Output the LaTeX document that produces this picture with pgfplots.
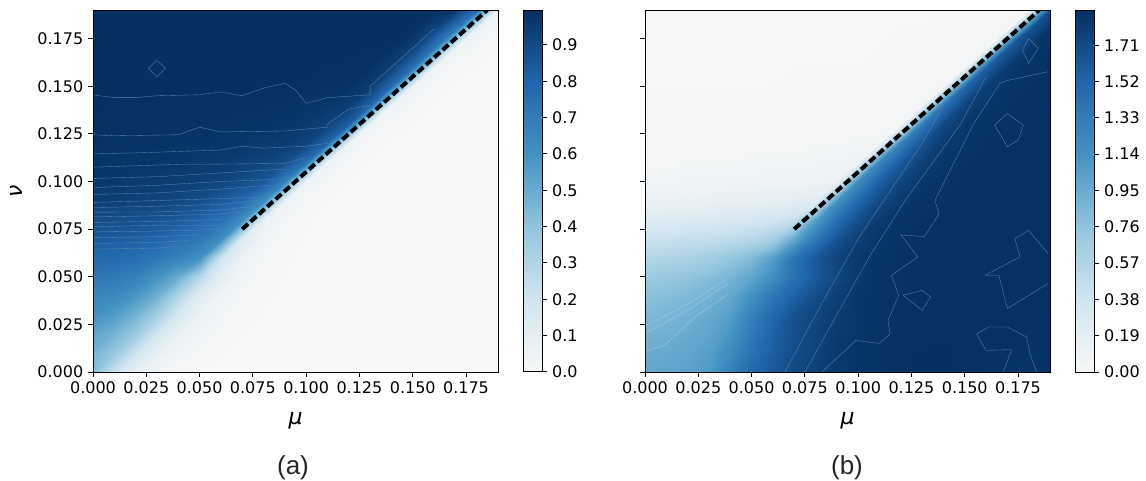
\documentclass[border=0pt]{standalone}
\usepackage{fontspec}
\setmainfont{DejaVu Sans}
\newfontfamily\capfont{Liberation Sans}
\usepackage{pgfplots}
\pgfplotsset{compat=1.18}
\definecolor{seam}{RGB}{95,135,175}
\definecolor{seamlight}{RGB}{165,205,232}
\pgfplotsset{
  /pgfplots/colormap={halfrdbu}{HTML(0)=(F7F7F7) HTML(2)=(D1E5F0) HTML(4)=(92C5DE) HTML(6)=(4393C3) HTML(8)=(2166AC) HTML(10)=(053061)},
  panel/.style={
    scale only axis, width=303.75pt, height=271.5pt,
    xmin=0, xmax=0.19, ymin=0, ymax=0.19,
    axis on top, axis line style={line width=0.75pt,black},
    tick align=outside, xtick pos=bottom, ytick pos=left,
    major tick length=3.75pt, tick style={line width=0.75pt,black},
    xtick={0,0.025,0.05,0.075,0.1,0.125,0.15,0.175},
    ytick={0,0.025,0.05,0.075,0.1,0.125,0.15,0.175},
    xticklabels={0.000,0.025,0.050,0.075,0.100,0.125,0.150,0.175},
    tick label style={font=\fontsize{12}{14}\selectfont},
    xlabel={\textit{μ}},
    every axis x label/.style={at={(axis description cs:0.5,-0.134)},anchor=center,font=\fontsize{16.5}{18}\selectfont},
    every axis y label/.style={at={(axis description cs:-0.19,0.5)},anchor=center,rotate=90,font=\fontsize{16.5}{18}\selectfont},
    colorbar,
  },
  cb/.style={
    at={(parent axis.north east)}, anchor=north west, xshift=10.5pt,
    width=14.25pt, scale only axis,
    axis line style={line width=0.75pt,black},
    major tick length=3.75pt, tick style={line width=0.75pt,black},
    tick align=outside, ytick pos=right,
    yticklabel pos=right,
    tick label style={font=\fontsize{12}{14}\selectfont},
  },
  seamline/.style={no marks, line width=0.25pt, color=seam, forget plot},
  seamlite/.style={no marks, line width=0.25pt, color=seamlight, forget plot},
}
\begin{document}
\begin{tikzpicture}
\useasboundingbox (0,0) rectangle (859.5pt,360pt);
\begin{axis}[panel, at={(69.75pt,81pt)}, anchor=south west,
  ylabel={\textit{ν}},
  yticklabels={0.000,0.025,0.050,0.075,0.100,0.125,0.150,0.175},
  point meta min=0, point meta max=0.996,
  colorbar style={cb,
    ytick={0,0.1,0.2,0.3,0.4,0.5,0.6,0.7,0.8,0.9},
    yticklabels={0.0,0.1,0.2,0.3,0.4,0.5,0.6,0.7,0.8,0.9}},
]
\addplot[surf, shader=interp, mesh/cols=20, point meta=explicit] table[row sep=\\, x=x, y=y, meta=v] {
x y v\\
0 0.19 0.995\\ 0.01 0.19 0.995\\ 0.02 0.19 0.995\\ 0.03 0.19 0.995\\ 0.04 0.19 0.995\\ 0.05 0.19 0.995\\ 0.06 0.19 0.995\\ 0.07 0.19 0.995\\ 0.08 0.19 0.995\\ 0.09 0.19 0.995\\ 0.10 0.19 0.995\\ 0.11 0.19 0.995\\ 0.12 0.19 0.995\\ 0.13 0.19 0.995\\ 0.14 0.19 0.995\\ 0.15 0.19 0.994\\ 0.16 0.19 0.993\\ 0.17 0.19 0.96\\ 0.18 0.19 0.75\\ 0.19 0.19 0.05\\
0 0.18 0.995\\ 0.01 0.18 0.995\\ 0.02 0.18 0.995\\ 0.03 0.18 0.995\\ 0.04 0.18 0.995\\ 0.05 0.18 0.995\\ 0.06 0.18 0.995\\ 0.07 0.18 0.995\\ 0.08 0.18 0.995\\ 0.09 0.18 0.995\\ 0.10 0.18 0.995\\ 0.11 0.18 0.995\\ 0.12 0.18 0.995\\ 0.13 0.18 0.995\\ 0.14 0.18 0.994\\ 0.15 0.18 0.993\\ 0.16 0.18 0.92\\ 0.17 0.18 0.72\\ 0.18 0.18 0.05\\ 0.19 0.18 0.01\\
0 0.17 0.995\\ 0.01 0.17 0.995\\ 0.02 0.17 0.995\\ 0.03 0.17 0.995\\ 0.04 0.17 0.995\\ 0.05 0.17 0.995\\ 0.06 0.17 0.995\\ 0.07 0.17 0.995\\ 0.08 0.17 0.995\\ 0.09 0.17 0.995\\ 0.10 0.17 0.995\\ 0.11 0.17 0.995\\ 0.12 0.17 0.994\\ 0.13 0.17 0.993\\ 0.14 0.17 0.992\\ 0.15 0.17 0.93\\ 0.16 0.17 0.72\\ 0.17 0.17 0.05\\ 0.18 0.17 0.01\\ 0.19 0.17 0.003\\
0 0.16 0.995\\ 0.01 0.16 0.995\\ 0.02 0.16 0.995\\ 0.03 0.16 0.995\\ 0.04 0.16 0.995\\ 0.05 0.16 0.995\\ 0.06 0.16 0.995\\ 0.07 0.16 0.995\\ 0.08 0.16 0.995\\ 0.09 0.16 0.995\\ 0.10 0.16 0.994\\ 0.11 0.16 0.993\\ 0.12 0.16 0.992\\ 0.13 0.16 0.99\\ 0.14 0.16 0.94\\ 0.15 0.16 0.75\\ 0.16 0.16 0.05\\ 0.17 0.16 0.01\\ 0.18 0.16 0.003\\ 0.19 0.16 0.002\\
0 0.15 0.995\\ 0.01 0.15 0.995\\ 0.02 0.15 0.995\\ 0.03 0.15 0.995\\ 0.04 0.15 0.995\\ 0.05 0.15 0.995\\ 0.06 0.15 0.994\\ 0.07 0.15 0.994\\ 0.08 0.15 0.994\\ 0.09 0.15 0.993\\ 0.10 0.15 0.992\\ 0.11 0.15 0.99\\ 0.12 0.15 0.985\\ 0.13 0.15 0.95\\ 0.14 0.15 0.78\\ 0.15 0.15 0.05\\ 0.16 0.15 0.01\\ 0.17 0.15 0.003\\ 0.18 0.15 0.002\\ 0.19 0.15 0.002\\
0 0.14 0.994\\ 0.01 0.14 0.993\\ 0.02 0.14 0.993\\ 0.03 0.14 0.992\\ 0.04 0.14 0.992\\ 0.05 0.14 0.991\\ 0.06 0.14 0.99\\ 0.07 0.14 0.99\\ 0.08 0.14 0.988\\ 0.09 0.14 0.986\\ 0.10 0.14 0.98\\ 0.11 0.14 0.97\\ 0.12 0.14 0.95\\ 0.13 0.14 0.80\\ 0.14 0.14 0.05\\ 0.15 0.14 0.01\\ 0.16 0.14 0.003\\ 0.17 0.14 0.002\\ 0.18 0.14 0.002\\ 0.19 0.14 0.002\\
0 0.13 0.991\\ 0.01 0.13 0.99\\ 0.02 0.13 0.99\\ 0.03 0.13 0.989\\ 0.04 0.13 0.988\\ 0.05 0.13 0.986\\ 0.06 0.13 0.985\\ 0.07 0.13 0.983\\ 0.08 0.13 0.98\\ 0.09 0.13 0.975\\ 0.10 0.13 0.96\\ 0.11 0.13 0.93\\ 0.12 0.13 0.82\\ 0.13 0.13 0.05\\ 0.14 0.13 0.01\\ 0.15 0.13 0.003\\ 0.16 0.13 0.002\\ 0.17 0.13 0.002\\ 0.18 0.13 0.002\\ 0.19 0.13 0.002\\
0 0.12 0.987\\ 0.01 0.12 0.985\\ 0.02 0.12 0.984\\ 0.03 0.12 0.982\\ 0.04 0.12 0.98\\ 0.05 0.12 0.977\\ 0.06 0.12 0.975\\ 0.07 0.12 0.97\\ 0.08 0.12 0.96\\ 0.09 0.12 0.95\\ 0.10 0.12 0.92\\ 0.11 0.12 0.80\\ 0.12 0.12 0.05\\ 0.13 0.12 0.01\\ 0.14 0.12 0.003\\ 0.15 0.12 0.002\\ 0.16 0.12 0.002\\ 0.17 0.12 0.002\\ 0.18 0.12 0.002\\ 0.19 0.12 0.002\\
0 0.11 0.98\\ 0.01 0.11 0.978\\ 0.02 0.11 0.975\\ 0.03 0.11 0.972\\ 0.04 0.11 0.968\\ 0.05 0.11 0.96\\ 0.06 0.11 0.955\\ 0.07 0.11 0.94\\ 0.08 0.11 0.92\\ 0.09 0.11 0.89\\ 0.10 0.11 0.75\\ 0.11 0.11 0.05\\ 0.12 0.11 0.01\\ 0.13 0.11 0.003\\ 0.14 0.11 0.002\\ 0.15 0.11 0.002\\ 0.16 0.11 0.002\\ 0.17 0.11 0.002\\ 0.18 0.11 0.002\\ 0.19 0.11 0.002\\
0 0.10 0.968\\ 0.01 0.10 0.966\\ 0.02 0.10 0.96\\ 0.03 0.10 0.955\\ 0.04 0.10 0.945\\ 0.05 0.10 0.935\\ 0.06 0.10 0.92\\ 0.07 0.10 0.89\\ 0.08 0.10 0.85\\ 0.09 0.10 0.68\\ 0.10 0.10 0.05\\ 0.11 0.10 0.01\\ 0.12 0.10 0.003\\ 0.13 0.10 0.002\\ 0.14 0.10 0.002\\ 0.15 0.10 0.002\\ 0.16 0.10 0.002\\ 0.17 0.10 0.002\\ 0.18 0.10 0.002\\ 0.19 0.10 0.002\\
0 0.09 0.94\\ 0.01 0.09 0.938\\ 0.02 0.09 0.93\\ 0.03 0.09 0.92\\ 0.04 0.09 0.905\\ 0.05 0.09 0.88\\ 0.06 0.09 0.84\\ 0.07 0.09 0.78\\ 0.08 0.09 0.62\\ 0.09 0.09 0.05\\ 0.10 0.09 0.01\\ 0.11 0.09 0.003\\ 0.12 0.09 0.002\\ 0.13 0.09 0.002\\ 0.14 0.09 0.002\\ 0.15 0.09 0.002\\ 0.16 0.09 0.002\\ 0.17 0.09 0.002\\ 0.18 0.09 0.002\\ 0.19 0.09 0.002\\
0 0.08 0.89\\ 0.01 0.08 0.885\\ 0.02 0.08 0.875\\ 0.03 0.08 0.86\\ 0.04 0.08 0.84\\ 0.05 0.08 0.80\\ 0.06 0.08 0.74\\ 0.07 0.08 0.62\\ 0.08 0.08 0.07\\ 0.09 0.08 0.02\\ 0.10 0.08 0.006\\ 0.11 0.08 0.002\\ 0.12 0.08 0.002\\ 0.13 0.08 0.002\\ 0.14 0.08 0.002\\ 0.15 0.08 0.002\\ 0.16 0.08 0.002\\ 0.17 0.08 0.002\\ 0.18 0.08 0.002\\ 0.19 0.08 0.002\\
0 0.07 0.84\\ 0.01 0.07 0.835\\ 0.02 0.07 0.82\\ 0.03 0.07 0.80\\ 0.04 0.07 0.76\\ 0.05 0.07 0.72\\ 0.06 0.07 0.62\\ 0.07 0.07 0.14\\ 0.08 0.07 0.03\\ 0.09 0.07 0.01\\ 0.10 0.07 0.004\\ 0.11 0.07 0.002\\ 0.12 0.07 0.002\\ 0.13 0.07 0.002\\ 0.14 0.07 0.002\\ 0.15 0.07 0.002\\ 0.16 0.07 0.002\\ 0.17 0.07 0.002\\ 0.18 0.07 0.002\\ 0.19 0.07 0.002\\
0 0.06 0.78\\ 0.01 0.06 0.775\\ 0.02 0.06 0.76\\ 0.03 0.06 0.72\\ 0.04 0.06 0.67\\ 0.05 0.06 0.60\\ 0.06 0.06 0.20\\ 0.07 0.06 0.05\\ 0.08 0.06 0.015\\ 0.09 0.06 0.006\\ 0.10 0.06 0.002\\ 0.11 0.06 0.002\\ 0.12 0.06 0.002\\ 0.13 0.06 0.002\\ 0.14 0.06 0.002\\ 0.15 0.06 0.002\\ 0.16 0.06 0.002\\ 0.17 0.06 0.002\\ 0.18 0.06 0.002\\ 0.19 0.06 0.002\\
0 0.05 0.72\\ 0.01 0.05 0.71\\ 0.02 0.05 0.68\\ 0.03 0.05 0.60\\ 0.04 0.05 0.50\\ 0.05 0.05 0.28\\ 0.06 0.05 0.10\\ 0.07 0.05 0.03\\ 0.08 0.05 0.012\\ 0.09 0.05 0.004\\ 0.10 0.05 0.002\\ 0.11 0.05 0.002\\ 0.12 0.05 0.002\\ 0.13 0.05 0.002\\ 0.14 0.05 0.002\\ 0.15 0.05 0.002\\ 0.16 0.05 0.002\\ 0.17 0.05 0.002\\ 0.18 0.05 0.002\\ 0.19 0.05 0.002\\
0 0.04 0.66\\ 0.01 0.04 0.64\\ 0.02 0.04 0.58\\ 0.03 0.04 0.48\\ 0.04 0.04 0.30\\ 0.05 0.04 0.11\\ 0.06 0.04 0.04\\ 0.07 0.04 0.015\\ 0.08 0.04 0.006\\ 0.09 0.04 0.003\\ 0.10 0.04 0.002\\ 0.11 0.04 0.002\\ 0.12 0.04 0.002\\ 0.13 0.04 0.002\\ 0.14 0.04 0.002\\ 0.15 0.04 0.002\\ 0.16 0.04 0.002\\ 0.17 0.04 0.002\\ 0.18 0.04 0.002\\ 0.19 0.04 0.002\\
0 0.03 0.60\\ 0.01 0.03 0.56\\ 0.02 0.03 0.47\\ 0.03 0.03 0.34\\ 0.04 0.03 0.17\\ 0.05 0.03 0.06\\ 0.06 0.03 0.025\\ 0.07 0.03 0.01\\ 0.08 0.03 0.004\\ 0.09 0.03 0.002\\ 0.10 0.03 0.002\\ 0.11 0.03 0.002\\ 0.12 0.03 0.002\\ 0.13 0.03 0.002\\ 0.14 0.03 0.002\\ 0.15 0.03 0.002\\ 0.16 0.03 0.002\\ 0.17 0.03 0.002\\ 0.18 0.03 0.002\\ 0.19 0.03 0.002\\
0 0.02 0.53\\ 0.01 0.02 0.47\\ 0.02 0.02 0.36\\ 0.03 0.02 0.18\\ 0.04 0.02 0.07\\ 0.05 0.02 0.03\\ 0.06 0.02 0.012\\ 0.07 0.02 0.005\\ 0.08 0.02 0.003\\ 0.09 0.02 0.002\\ 0.10 0.02 0.002\\ 0.11 0.02 0.002\\ 0.12 0.02 0.002\\ 0.13 0.02 0.002\\ 0.14 0.02 0.002\\ 0.15 0.02 0.002\\ 0.16 0.02 0.002\\ 0.17 0.02 0.002\\ 0.18 0.02 0.002\\ 0.19 0.02 0.002\\
0 0.01 0.47\\ 0.01 0.01 0.38\\ 0.02 0.01 0.2\\ 0.03 0.01 0.08\\ 0.04 0.01 0.03\\ 0.05 0.01 0.012\\ 0.06 0.01 0.005\\ 0.07 0.01 0.003\\ 0.08 0.01 0.002\\ 0.09 0.01 0.002\\ 0.10 0.01 0.002\\ 0.11 0.01 0.002\\ 0.12 0.01 0.002\\ 0.13 0.01 0.002\\ 0.14 0.01 0.002\\ 0.15 0.01 0.002\\ 0.16 0.01 0.002\\ 0.17 0.01 0.002\\ 0.18 0.01 0.002\\ 0.19 0.01 0.002\\
0 0 0.42\\ 0.01 0 0.22\\ 0.02 0 0.08\\ 0.03 0 0.03\\ 0.04 0 0.012\\ 0.05 0 0.005\\ 0.06 0 0.003\\ 0.07 0 0.002\\ 0.08 0 0.002\\ 0.09 0 0.002\\ 0.10 0 0.002\\ 0.11 0 0.002\\ 0.12 0 0.002\\ 0.13 0 0.002\\ 0.14 0 0.002\\ 0.15 0 0.002\\ 0.16 0 0.002\\ 0.17 0 0.002\\ 0.18 0 0.002\\ 0.19 0 0.002\\
};
\addplot[seamline] coordinates {(0,0.1454)(0.01,0.144)(0.02,0.144)(0.03,0.145)(0.05,0.1455)(0.06,0.147)(0.07,0.145)(0.08,0.149)(0.09,0.1515)(0.095,0.148)(0.10,0.141)(0.11,0.144)(0.13,0.1455)(0.13,0.15)(0.14,0.16)(0.16,0.18)};
\addplot[seamline] coordinates {(0,0.1245)(0.01,0.124)(0.04,0.1245)(0.05,0.1285)(0.06,0.126)(0.09,0.1265)(0.11,0.1285)(0.11,0.13)(0.12,0.138)(0.13,0.14)};
\addplot[seamline] coordinates {(0,0.1145)(0.02,0.115)(0.06,0.1165)(0.07,0.1185)(0.08,0.1175)(0.10,0.1185)(0.11,0.12)};
\addplot[seamline] coordinates {(0,0.1075)(0.04,0.109)(0.05,0.109)(0.09,0.1095)(0.10,0.1125)};
\addplot[seamline] coordinates {(0,0.1016)(0.03,0.1025)(0.06,0.1045)(0.09,0.1065)};
\addplot[seamline] coordinates {(0,0.0968)(0.03,0.098)(0.06,0.1)(0.085,0.101)};
\addplot[seamline] coordinates {(0,0.0932)(0.03,0.094)(0.06,0.096)(0.083,0.098)};
\addplot[seamline] coordinates {(0,0.089)(0.03,0.09)(0.06,0.091)(0.08,0.092)};
\addplot[seamline] coordinates {(0,0.0863)(0.03,0.087)(0.06,0.088)(0.077,0.09)};
\addplot[seamline] coordinates {(0,0.0839)(0.03,0.084)(0.06,0.085)(0.075,0.087)};
\addplot[seamline] coordinates {(0,0.0814)(0.03,0.082)(0.06,0.083)(0.07,0.084)};
\addplot[seamline] coordinates {(0,0.0785)(0.03,0.079)(0.06,0.08)};
\addplot[seamline] coordinates {(0,0.0762)(0.03,0.077)(0.06,0.077)};
\addplot[seamline] coordinates {(0,0.0735)(0.03,0.074)(0.05,0.0745)(0.06,0.075)};
\addplot[seamline] coordinates {(0,0.0705)(0.03,0.071)(0.05,0.072)};
\addplot[seamline] coordinates {(0,0.0675)(0.03,0.068)(0.045,0.069)};
\addplot[seamline] coordinates {(0,0.0645)(0.03,0.065)(0.04,0.066)};
\addplot[seamline] coordinates {(0.026,0.1594)(0.03,0.1635)(0.034,0.1594)(0.03,0.155)(0.026,0.1594)};
\addplot[forget plot, no marks, black, line width=3pt, dash pattern=on 5.85pt off 2.55pt] coordinates {(0.07,0.075)(0.185,0.19)};
\end{axis}
\begin{axis}[panel, at={(483.75pt,81pt)}, anchor=south west,
  yticklabels={},
  point meta min=0, point meta max=1.894,
  colorbar style={cb,
    ytick={0,0.19,0.38,0.57,0.76,0.95,1.14,1.33,1.52,1.71},
    yticklabels={0.00,0.19,0.38,0.57,0.76,0.95,1.14,1.33,1.52,1.71}},
]
\addplot[surf, shader=interp, mesh/cols=20, point meta=explicit] table[row sep=\\, x=x, y=y, meta=v] {
x y v\\
0 0.19 0.01\\ 0.01 0.19 0.01\\ 0.02 0.19 0.01\\ 0.03 0.19 0.01\\ 0.04 0.19 0.01\\ 0.05 0.19 0.01\\ 0.06 0.19 0.01\\ 0.07 0.19 0.01\\ 0.08 0.19 0.01\\ 0.09 0.19 0.01\\ 0.10 0.19 0.01\\ 0.11 0.19 0.01\\ 0.12 0.19 0.01\\ 0.13 0.19 0.01\\ 0.14 0.19 0.01\\ 0.15 0.19 0.015\\ 0.16 0.19 0.015\\ 0.17 0.19 0.02\\ 0.18 0.19 0.04\\ 0.19 0.19 1.70\\
0 0.18 0.01\\ 0.01 0.18 0.01\\ 0.02 0.18 0.01\\ 0.03 0.18 0.01\\ 0.04 0.18 0.01\\ 0.05 0.18 0.01\\ 0.06 0.18 0.01\\ 0.07 0.18 0.01\\ 0.08 0.18 0.01\\ 0.09 0.18 0.01\\ 0.10 0.18 0.01\\ 0.11 0.18 0.01\\ 0.12 0.18 0.01\\ 0.13 0.18 0.01\\ 0.14 0.18 0.015\\ 0.15 0.18 0.015\\ 0.16 0.18 0.02\\ 0.17 0.18 0.04\\ 0.18 0.18 1.65\\ 0.19 0.18 1.86\\
0 0.17 0.01\\ 0.01 0.17 0.01\\ 0.02 0.17 0.01\\ 0.03 0.17 0.01\\ 0.04 0.17 0.01\\ 0.05 0.17 0.01\\ 0.06 0.17 0.01\\ 0.07 0.17 0.01\\ 0.08 0.17 0.01\\ 0.09 0.17 0.01\\ 0.10 0.17 0.01\\ 0.11 0.17 0.01\\ 0.12 0.17 0.015\\ 0.13 0.17 0.015\\ 0.14 0.17 0.02\\ 0.15 0.17 0.02\\ 0.16 0.17 0.04\\ 0.17 0.17 1.60\\ 0.18 0.17 1.84\\ 0.19 0.17 1.88\\
0 0.16 0.01\\ 0.01 0.16 0.01\\ 0.02 0.16 0.01\\ 0.03 0.16 0.01\\ 0.04 0.16 0.01\\ 0.05 0.16 0.01\\ 0.06 0.16 0.01\\ 0.07 0.16 0.01\\ 0.08 0.16 0.01\\ 0.09 0.16 0.01\\ 0.10 0.16 0.01\\ 0.11 0.16 0.015\\ 0.12 0.16 0.015\\ 0.13 0.16 0.02\\ 0.14 0.16 0.02\\ 0.15 0.16 0.04\\ 0.16 0.16 1.55\\ 0.17 0.16 1.82\\ 0.18 0.16 1.87\\ 0.19 0.16 1.885\\
0 0.15 0.01\\ 0.01 0.15 0.01\\ 0.02 0.15 0.01\\ 0.03 0.15 0.01\\ 0.04 0.15 0.01\\ 0.05 0.15 0.01\\ 0.06 0.15 0.01\\ 0.07 0.15 0.015\\ 0.08 0.15 0.015\\ 0.09 0.15 0.015\\ 0.10 0.15 0.015\\ 0.11 0.15 0.02\\ 0.12 0.15 0.02\\ 0.13 0.15 0.02\\ 0.14 0.15 0.04\\ 0.15 0.15 1.50\\ 0.16 0.15 1.80\\ 0.17 0.15 1.86\\ 0.18 0.15 1.88\\ 0.19 0.15 1.885\\
0 0.14 0.015\\ 0.01 0.14 0.015\\ 0.02 0.14 0.015\\ 0.03 0.14 0.015\\ 0.04 0.14 0.015\\ 0.05 0.14 0.015\\ 0.06 0.14 0.015\\ 0.07 0.14 0.02\\ 0.08 0.14 0.02\\ 0.09 0.14 0.02\\ 0.10 0.14 0.02\\ 0.11 0.14 0.02\\ 0.12 0.14 0.03\\ 0.13 0.14 0.04\\ 0.14 0.14 1.40\\ 0.15 0.14 1.76\\ 0.16 0.14 1.85\\ 0.17 0.14 1.875\\ 0.18 0.14 1.885\\ 0.19 0.14 1.88\\
0 0.13 0.02\\ 0.01 0.13 0.02\\ 0.02 0.13 0.02\\ 0.03 0.13 0.02\\ 0.04 0.13 0.02\\ 0.05 0.13 0.02\\ 0.06 0.13 0.02\\ 0.07 0.13 0.02\\ 0.08 0.13 0.02\\ 0.09 0.13 0.03\\ 0.10 0.13 0.03\\ 0.11 0.13 0.03\\ 0.12 0.13 0.04\\ 0.13 0.13 1.35\\ 0.14 0.13 1.72\\ 0.15 0.13 1.84\\ 0.16 0.13 1.87\\ 0.17 0.13 1.88\\ 0.18 0.13 1.885\\ 0.19 0.13 1.885\\
0 0.12 0.02\\ 0.01 0.12 0.02\\ 0.02 0.12 0.02\\ 0.03 0.12 0.03\\ 0.04 0.12 0.03\\ 0.05 0.12 0.03\\ 0.06 0.12 0.03\\ 0.07 0.12 0.04\\ 0.08 0.12 0.04\\ 0.09 0.12 0.04\\ 0.10 0.12 0.05\\ 0.11 0.12 0.05\\ 0.12 0.12 1.30\\ 0.13 0.12 1.65\\ 0.14 0.12 1.82\\ 0.15 0.12 1.86\\ 0.16 0.12 1.88\\ 0.17 0.12 1.885\\ 0.18 0.12 1.885\\ 0.19 0.12 1.885\\
0 0.11 0.03\\ 0.01 0.11 0.03\\ 0.02 0.11 0.04\\ 0.03 0.11 0.04\\ 0.04 0.11 0.04\\ 0.05 0.11 0.05\\ 0.06 0.11 0.05\\ 0.07 0.11 0.05\\ 0.08 0.11 0.06\\ 0.09 0.11 0.07\\ 0.10 0.11 0.08\\ 0.11 0.11 1.25\\ 0.12 0.11 1.60\\ 0.13 0.11 1.78\\ 0.14 0.11 1.85\\ 0.15 0.11 1.875\\ 0.16 0.11 1.885\\ 0.17 0.11 1.885\\ 0.18 0.11 1.885\\ 0.19 0.11 1.885\\
0 0.10 0.06\\ 0.01 0.10 0.06\\ 0.02 0.10 0.07\\ 0.03 0.10 0.07\\ 0.04 0.10 0.08\\ 0.05 0.10 0.08\\ 0.06 0.10 0.09\\ 0.07 0.10 0.09\\ 0.08 0.10 0.10\\ 0.09 0.10 0.12\\ 0.10 0.10 1.20\\ 0.11 0.10 1.55\\ 0.12 0.10 1.75\\ 0.13 0.10 1.84\\ 0.14 0.10 1.87\\ 0.15 0.10 1.88\\ 0.16 0.10 1.885\\ 0.17 0.10 1.885\\ 0.18 0.10 1.885\\ 0.19 0.10 1.885\\
0 0.09 0.13\\ 0.01 0.09 0.13\\ 0.02 0.09 0.14\\ 0.03 0.09 0.15\\ 0.04 0.09 0.16\\ 0.05 0.09 0.17\\ 0.06 0.09 0.18\\ 0.07 0.09 0.20\\ 0.08 0.09 0.24\\ 0.09 0.09 1.15\\ 0.10 0.09 1.50\\ 0.11 0.09 1.72\\ 0.12 0.09 1.83\\ 0.13 0.09 1.87\\ 0.14 0.09 1.88\\ 0.15 0.09 1.885\\ 0.16 0.09 1.885\\ 0.17 0.09 1.885\\ 0.18 0.09 1.885\\ 0.19 0.09 1.885\\
0 0.08 0.25\\ 0.01 0.08 0.26\\ 0.02 0.08 0.27\\ 0.03 0.08 0.29\\ 0.04 0.08 0.31\\ 0.05 0.08 0.34\\ 0.06 0.08 0.38\\ 0.07 0.08 0.45\\ 0.08 0.08 1.08\\ 0.09 0.08 1.45\\ 0.10 0.08 1.68\\ 0.11 0.08 1.82\\ 0.12 0.08 1.87\\ 0.13 0.08 1.88\\ 0.14 0.08 1.885\\ 0.15 0.08 1.885\\ 0.16 0.08 1.885\\ 0.17 0.08 1.885\\ 0.18 0.08 1.885\\ 0.19 0.08 1.885\\
0 0.07 0.42\\ 0.01 0.07 0.43\\ 0.02 0.07 0.45\\ 0.03 0.07 0.47\\ 0.04 0.07 0.50\\ 0.05 0.07 0.55\\ 0.06 0.07 0.65\\ 0.07 0.07 0.98\\ 0.08 0.07 1.38\\ 0.09 0.07 1.65\\ 0.10 0.07 1.80\\ 0.11 0.07 1.85\\ 0.12 0.07 1.875\\ 0.13 0.07 1.885\\ 0.14 0.07 1.885\\ 0.15 0.07 1.885\\ 0.16 0.07 1.885\\ 0.17 0.07 1.885\\ 0.18 0.07 1.885\\ 0.19 0.07 1.885\\
0 0.06 0.56\\ 0.01 0.06 0.58\\ 0.02 0.06 0.61\\ 0.03 0.06 0.66\\ 0.04 0.06 0.74\\ 0.05 0.06 0.85\\ 0.06 0.06 1.05\\ 0.07 0.06 1.40\\ 0.08 0.06 1.62\\ 0.09 0.06 1.76\\ 0.10 0.06 1.83\\ 0.11 0.06 1.865\\ 0.12 0.06 1.88\\ 0.13 0.06 1.885\\ 0.14 0.06 1.885\\ 0.15 0.06 1.885\\ 0.16 0.06 1.885\\ 0.17 0.06 1.885\\ 0.18 0.06 1.885\\ 0.19 0.06 1.885\\
0 0.05 0.70\\ 0.01 0.05 0.72\\ 0.02 0.05 0.76\\ 0.03 0.05 0.81\\ 0.04 0.05 0.88\\ 0.05 0.05 1.00\\ 0.06 0.05 1.18\\ 0.07 0.05 1.42\\ 0.08 0.05 1.60\\ 0.09 0.05 1.74\\ 0.10 0.05 1.83\\ 0.11 0.05 1.87\\ 0.12 0.05 1.88\\ 0.13 0.05 1.885\\ 0.14 0.05 1.885\\ 0.15 0.05 1.885\\ 0.16 0.05 1.885\\ 0.17 0.05 1.885\\ 0.18 0.05 1.885\\ 0.19 0.05 1.885\\
0 0.04 0.79\\ 0.01 0.04 0.81\\ 0.02 0.04 0.85\\ 0.03 0.04 0.90\\ 0.04 0.04 0.98\\ 0.05 0.04 1.16\\ 0.06 0.04 1.38\\ 0.07 0.04 1.55\\ 0.08 0.04 1.70\\ 0.09 0.04 1.79\\ 0.10 0.04 1.85\\ 0.11 0.04 1.87\\ 0.12 0.04 1.88\\ 0.13 0.04 1.885\\ 0.14 0.04 1.885\\ 0.15 0.04 1.885\\ 0.16 0.04 1.885\\ 0.17 0.04 1.885\\ 0.18 0.04 1.885\\ 0.19 0.04 1.885\\
0 0.03 0.85\\ 0.01 0.03 0.87\\ 0.02 0.03 0.91\\ 0.03 0.03 0.96\\ 0.04 0.03 1.05\\ 0.05 0.03 1.30\\ 0.06 0.03 1.50\\ 0.07 0.03 1.66\\ 0.08 0.03 1.75\\ 0.09 0.03 1.81\\ 0.10 0.03 1.85\\ 0.11 0.03 1.87\\ 0.12 0.03 1.88\\ 0.13 0.03 1.885\\ 0.14 0.03 1.885\\ 0.15 0.03 1.885\\ 0.16 0.03 1.885\\ 0.17 0.03 1.885\\ 0.18 0.03 1.885\\ 0.19 0.03 1.88\\
0 0.02 0.90\\ 0.01 0.02 0.92\\ 0.02 0.02 0.96\\ 0.03 0.02 1.00\\ 0.04 0.02 1.12\\ 0.05 0.02 1.36\\ 0.06 0.02 1.55\\ 0.07 0.02 1.68\\ 0.08 0.02 1.76\\ 0.09 0.02 1.82\\ 0.10 0.02 1.855\\ 0.11 0.02 1.875\\ 0.12 0.02 1.885\\ 0.13 0.02 1.885\\ 0.14 0.02 1.885\\ 0.15 0.02 1.885\\ 0.16 0.02 1.885\\ 0.17 0.02 1.885\\ 0.18 0.02 1.88\\ 0.19 0.02 1.88\\
0 0.01 0.95\\ 0.01 0.01 0.97\\ 0.02 0.01 1.00\\ 0.03 0.01 1.05\\ 0.04 0.01 1.20\\ 0.05 0.01 1.42\\ 0.06 0.01 1.58\\ 0.07 0.01 1.70\\ 0.08 0.01 1.77\\ 0.09 0.01 1.83\\ 0.10 0.01 1.86\\ 0.11 0.01 1.875\\ 0.12 0.01 1.885\\ 0.13 0.01 1.89\\ 0.14 0.01 1.89\\ 0.15 0.01 1.885\\ 0.16 0.01 1.88\\ 0.17 0.01 1.88\\ 0.18 0.01 1.875\\ 0.19 0.01 1.88\\
0 0 0.98\\ 0.01 0 1.00\\ 0.02 0 1.02\\ 0.03 0 1.08\\ 0.04 0 1.30\\ 0.05 0 1.50\\ 0.06 0 1.62\\ 0.07 0 1.72\\ 0.08 0 1.78\\ 0.09 0 1.83\\ 0.10 0 1.86\\ 0.11 0 1.875\\ 0.12 0 1.885\\ 0.13 0 1.89\\ 0.14 0 1.89\\ 0.15 0 1.885\\ 0.16 0 1.88\\ 0.17 0 1.875\\ 0.18 0 1.87\\ 0.19 0 1.875\\
};
\addplot[seamline] coordinates {(0.083,0)(0.099,0.0166)(0.110,0.015)(0.115,0.02)(0.114,0.027)(0.119,0.0403)(0.1157,0.0508)(0.128,0.0604)(0.12,0.072)(0.131,0.071)(0.138,0.083)(0.136,0.09)(0.154,0.13)(0.1665,0.1515)(0.17,0.153)(0.189,0.1576)};
\addplot[seamline] coordinates {(0.075,0)(0.09,0.03)(0.105,0.06)(0.122,0.09)(0.135,0.11)(0.148,0.13)(0.16,0.155)};
\addplot[seamline] coordinates {(0.0656,0)(0.08,0.03)(0.09,0.05)(0.1,0.07)(0.115,0.095)(0.13,0.12)(0.14,0.14)};
\addplot[seamline] coordinates {(0.121,0.0403)(0.13,0.0429)(0.134,0.0394)(0.13,0.0324)(0.121,0.0403)};
\addplot[seamline] coordinates {(0.164,0.1296)(0.170,0.1357)(0.1775,0.1296)(0.175,0.1217)(0.170,0.1182)(0.164,0.1296)};
\addplot[seamline] coordinates {(0.177,0.169)(0.18,0.175)(0.1845,0.17)(0.18,0.162)(0.177,0.169)};
\addplot[seamline] coordinates {(0.1837,0)(0.1806,0.0096)(0.179,0.0184)(0.17,0.0236)(0.161,0.0236)(0.1556,0.02)(0.160,0.0114)(0.172,0.0117)(0.168,0)};
\addplot[seamline] coordinates {(0.189,0.0464)(0.170,0.0333)(0.166,0.0508)(0.1595,0.0508)(0.176,0.0604)(0.1735,0.07)(0.18,0.0744)(0.189,0.0622)};
\addplot[seamlite] coordinates {(0,0.0107)(0.0094,0.0142)(0.0235,0.029)(0.039,0.041)};
\addplot[seamlite] coordinates {(0,0.0203)(0.0203,0.0325)(0.039,0.0465)};
\addplot[seamlite] coordinates {(0,0.0238)(0.0203,0.036)(0.0375,0.048)};
\addplot[forget plot, no marks, black, line width=3pt, dash pattern=on 5.85pt off 2.55pt] coordinates {(0.07,0.075)(0.185,0.19)};
\end{axis}
\node[text=black!85,font=\capfont\fontsize{19.5}{22}\selectfont] at (219.75pt,9.5pt) {(a)};
\node[text=black!85,font=\capfont\fontsize{19.5}{22}\selectfont] at (635.25pt,9.5pt) {(b)};
\end{tikzpicture}
\end{document}
